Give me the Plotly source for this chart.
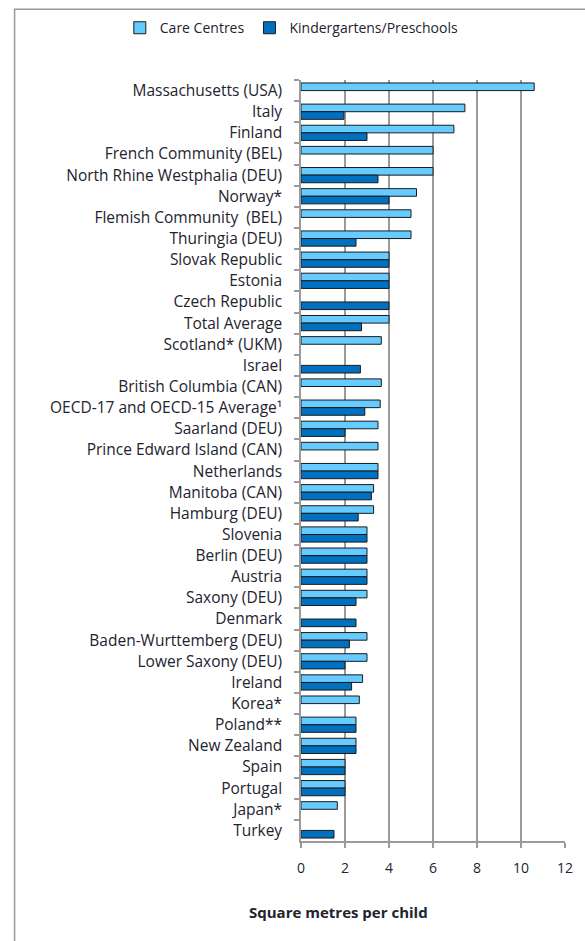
import plotly.graph_objects as go

categories = [
    "Massachusetts (USA)", "Italy", "Finland", "French Community (BEL)",
    "North Rhine Westphalia (DEU)", "Norway*", "Flemish Community  (BEL)",
    "Thuringia (DEU)", "Slovak Republic", "Estonia", "Czech Republic",
    "Total Average", "Scotland* (UKM)", "Israel", "British Columbia (CAN)",
    "OECD-17 and OECD-15 Average¹", "Saarland (DEU)", "Prince Edward Island (CAN)",
    "Netherlands", "Manitoba (CAN)", "Hamburg (DEU)", "Slovenia", "Berlin (DEU)",
    "Austria", "Saxony (DEU)", "Denmark", "Baden-Wurttemberg (DEU)",
    "Lower Saxony (DEU)", "Ireland", "Korea*", "Poland**", "New Zealand",
    "Spain", "Portugal", "Japan*", "Turkey",
]

care_centres = [
    10.6, 7.45, 6.95, 6.0, 6.0, 5.25, 5.0, 5.0, 4.0, 4.0, None, 4.0, 3.65, None,
    3.65, 3.6, 3.5, 3.5, 3.5, 3.3, 3.3, 3.0, 3.0, 3.0, 3.0, None, 3.0, 3.0,
    2.8, 2.65, 2.5, 2.5, 2.0, 2.0, 1.65, None,
]

kindergartens = [
    None, 1.95, 3.0, None, 3.5, 4.0, None, 2.5, 4.0, 4.0, 4.0, 2.75, None, 2.7,
    None, 2.9, 2.0, None, 3.5, 3.2, 2.6, 3.0, 3.0, 3.0, 2.5, 2.5, 2.2, 2.0,
    2.3, None, 2.5, 2.5, 2.0, 2.0, None, 1.5,
]

x_ticks = [0, 2, 4, 6, 8, 10, 12]

font_family = "'Open Sans', Lato, sans-serif"
text_color = "#23232f"

fig = go.Figure()
fig.add_trace(go.Bar(
    name="Care Centres", y=categories, x=care_centres, orientation="h",
    marker=dict(color="#66CCFF", line=dict(color="#1a1a1a", width=1)),
))
fig.add_trace(go.Bar(
    name="Kindergartens/Preschools", y=categories, x=kindergartens, orientation="h",
    marker=dict(color="#0070C0", line=dict(color="#1a1a1a", width=1)),
))

W, H = 585, 941
ml, mr, mt, mb = 301, 13, 78, 100
pw, ph = W - ml - mr, H - mt - mb

def px_x(p):
    return (p - ml) / pw

def px_y(p):
    return (H - mb - p) / ph

fig.update_layout(
    width=W, height=H,
    margin=dict(l=ml, r=mr, t=mt, b=mb),
    paper_bgcolor="white", plot_bgcolor="white",
    barmode="group", bargap=0.28, bargroupgap=0.0,
    font=dict(family=font_family, size=14, color=text_color),
    showlegend=True,
    legend=dict(
        orientation="h", x=px_x(115), y=px_y(26), xanchor="left", yanchor="middle",
        font=dict(size=14, color=text_color), itemwidth=30, traceorder="normal",
        bgcolor="rgba(0,0,0,0)",
    ),
    xaxis=dict(
        range=[0, 12], tickvals=x_ticks, ticktext=[str(v) for v in x_ticks],
        showgrid=True, gridcolor="#9a9a9a", gridwidth=1.5,
        showline=True, linecolor="#9a9a9a", linewidth=1.5,
        ticks="outside", ticklen=5, tickcolor="#9a9a9a", tickwidth=1.5,
        tickfont=dict(size=14, color=text_color), zeroline=False,
        ticklabelstandoff=8,
    ),
    yaxis=dict(
        autorange="reversed", type="category",
        showline=True, linecolor="#9a9a9a", linewidth=1.5,
        ticks="outside", ticklen=5, tickcolor="#9a9a9a", tickwidth=1.5,
        tickson="boundaries", showgrid=False,
        tickfont=dict(size=15.5, color=text_color), ticklabelstandoff=14,
    ),
    annotations=[dict(
        text="<b>Square metres per child</b>", xref="paper", yref="paper",
        x=px_x(340), y=px_y(912), xanchor="center", yanchor="middle",
        showarrow=False, font=dict(size=15, color=text_color),
    )],
    shapes=[dict(
        type="rect", xref="paper", yref="paper",
        x0=px_x(7), x1=px_x(600), y0=px_y(960), y1=px_y(7),
        line=dict(color="#9a9a9a", width=1.5), fillcolor="rgba(0,0,0,0)", layer="below",
    )],
)

fig.write_html(
    "out.html",
    config={"displayModeBar": False},
    post_script="document.body.style.margin='0';document.body.style.overflow='hidden';",
)
